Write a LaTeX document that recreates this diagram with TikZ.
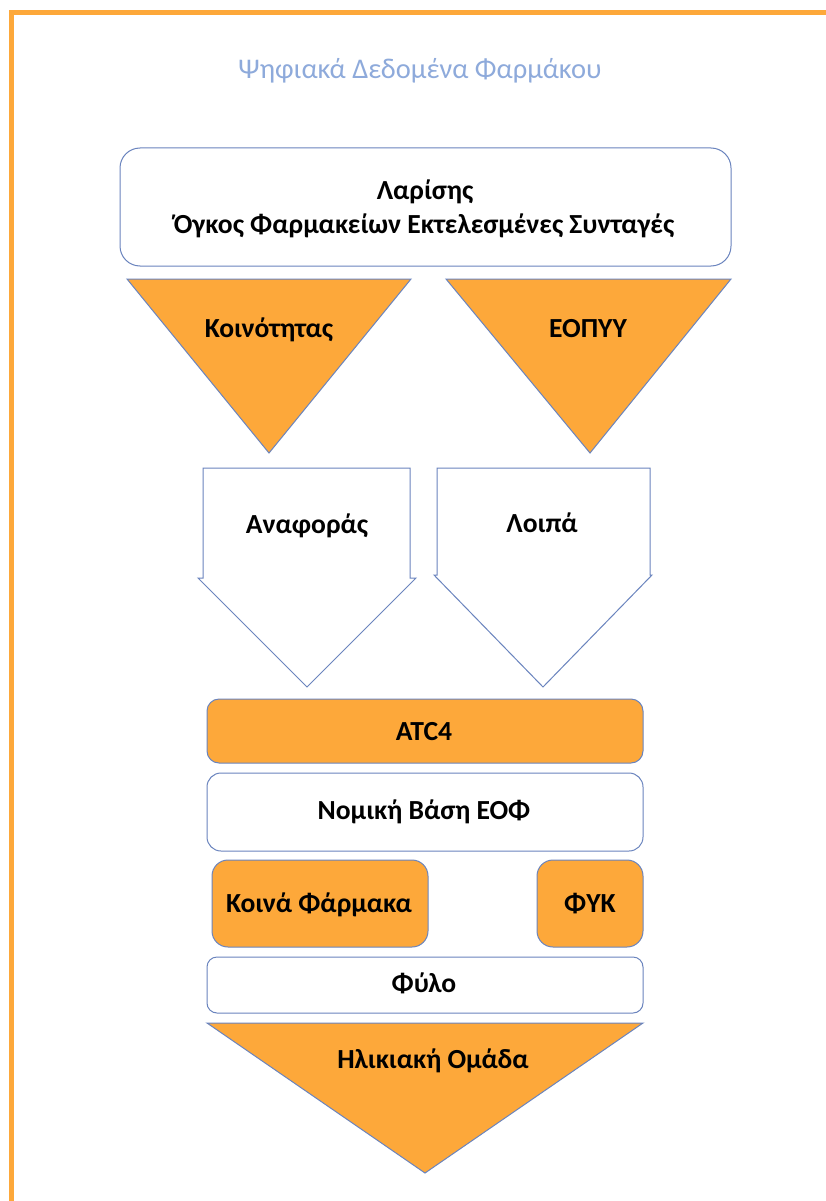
\documentclass[tikz,border=0pt]{standalone}
\usepackage{fontspec}
\setmainfont{Carlito}
\definecolor{orng}{HTML}{FDA83A}
\definecolor{edge}{HTML}{6A84BE}
\definecolor{ttl}{HTML}{8EAADB}
\begin{document}
\begin{tikzpicture}[x=1pt,y=-1pt,
  lbl/.style={anchor=base, inner sep=0pt, font=\fontsize{27.6}{32}\selectfont\bfseries},
  ttlstyle/.style={anchor=base, inner sep=0pt, text=ttl, font=\fontsize{28.5}{33}\selectfont},
  rbox/.style={draw=edge, line width=1pt, rounded corners=#1, inner sep=0pt, outer sep=0pt},
  shp/.style={draw=edge, line width=1pt, line join=miter},
  frame/.style={draw=orng, line width=5pt, line join=miter}]
\useasboundingbox (0,0) rectangle (826,1201);
\fill[white] (0,0) rectangle (826,1201);
\draw[frame] (11.5,1201) -- (11.5,12.5) -- (826,12.5);

\node[ttlstyle] (title) at (420,79) {Ψηφιακά Δεδομένα Φαρμάκου};

% top box
\node[rbox=20pt, minimum width=611pt, minimum height=118pt] (top) at (425.5,207) {};
\node[lbl] (t1) at (425,200) {Λαρίσης};
\node[lbl] (t2) at (424,233) {Όγκος Φαρμακείων Εκτελεσμένες Συνταγές};

% triangles
\draw[shp, fill=orng] (127,279) -- (411,279) -- (269,453) -- cycle;
\draw[shp, fill=orng] (446,279) -- (731,279) -- (590,453) -- cycle;
\node[lbl] (koin) at (269,337) {Κοινότητας};
\node[lbl] (eopyy) at (588,337) {ΕΟΠΥΥ};

% pentagon arrows
\draw[shp, fill=white] (203,468) -- (410,468) -- (410,578) -- (416,578) -- (307,687) -- (198,578) -- (203,578) -- cycle;
\draw[shp, fill=white] (437,468) -- (650,468) -- (650,575) -- (652,575) -- (543,687) -- (434,575) -- (437,575) -- cycle;
\node[lbl] (anaf) at (307,533) {Αναφοράς};
\node[lbl] (loipa) at (542,532) {Λοιπά};

% stacked boxes
\node[rbox=12pt, fill=orng, minimum width=436pt, minimum height=64pt] (atcbox) at (425,731) {};
\node[lbl] (atc) at (424,740) {ATC4};
\node[rbox=14pt, fill=white, minimum width=436pt, minimum height=78pt] (nbox) at (425,812) {};
\node[lbl] (nom) at (424,819) {Νομική Βάση ΕΟΦ};
\node[rbox=16pt, fill=orng, minimum width=216pt, minimum height=87pt] (kbox) at (320,903.5) {};
\node[lbl] (koinf) at (319,912) {Κοινά Φάρμακα};
\node[rbox=16pt, fill=orng, minimum width=106pt, minimum height=87pt] (fbox) at (590,903.5) {};
\node[lbl] (fyk) at (590,912) {ΦΥΚ};
\node[rbox=10pt, fill=white, minimum width=436pt, minimum height=56pt] (phbox) at (425,985) {};
\node[lbl] (fylo) at (424,992) {Φύλο};

% bottom triangle
\draw[shp, fill=orng] (207,1023) -- (643,1023) -- (425,1173) -- cycle;
\node[lbl] (hlik) at (433,1068) {Ηλικιακή Ομάδα};
\end{tikzpicture}
\end{document}
